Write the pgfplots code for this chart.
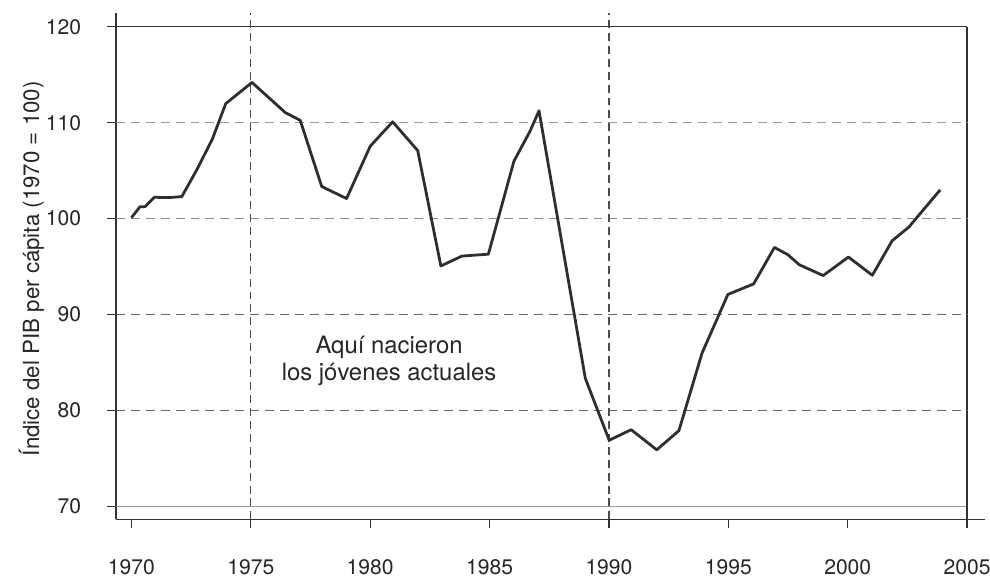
\documentclass[border=0pt]{standalone}
\usepackage{fontspec}
\setmainfont{TeX Gyre Heros}
\usepackage{pgfplots}
\pgfplotsset{compat=1.18}

\definecolor{curve}{HTML}{2E2E2E}
\definecolor{axisgray}{HTML}{333333}

\begin{document}
\begin{tikzpicture}
\begin{axis}[
    scale only axis,
    width=436.75pt, height=254.5pt,
    xmin=1969.35, xmax=2005.75,
    ymin=68.65, ymax=121.45,
    axis x line*=bottom, axis y line*=left,
    axis line style={axisgray, line width=0.65pt, -},
    xtick={1970,1975,...,2005},
    ytick={70,80,...,120},
    tick align=outside,
    major tick length=4.5pt,
    tick style={axisgray, line width=0.65pt},
    /pgf/number format/assume math mode=true,
    /pgf/number format/1000 sep={},
    tick label style={font=\fontsize{10.6}{12}\selectfont, text=black!85},
    xticklabel style={yshift=-12pt},
    yticklabel style={xshift=-9.5pt},
    every axis y label/.style={at={(rel axis cs:0,0.495)}, xshift=-42.5pt, rotate=90, anchor=center},
    ylabel={Índice del PIB per cápita (1970 = 100)},
    ylabel style={font=\fontsize{11.2}{13}\selectfont, text=black!85},
    clip=false,
]
% reference lines
\draw[black!40, line width=0.8pt] (axis cs:1969.35,70) -- (axis cs:2005,70);
\draw[axisgray, line width=0.65pt] (axis cs:1969.35,120) -- (axis cs:2005,120);
\draw[axisgray, line width=0.65pt] (axis cs:2005,68.65) -- (axis cs:2005,120);
\draw[black!40, line width=0.6pt, dash pattern=on 4.5pt off 3pt] (axis cs:1969.35,110) -- (axis cs:2005,110);
\draw[black!45, line width=0.6pt, dash pattern=on 4.5pt off 3pt] (axis cs:1969.35,100) -- (axis cs:2005,100);
\draw[black!60, line width=0.6pt, dash pattern=on 4.5pt off 3pt] (axis cs:1969.35,90) -- (axis cs:2005,90);
\draw[black!60, line width=0.6pt, dash pattern=on 4.5pt off 3pt] (axis cs:1969.35,80) -- (axis cs:2005,80);
\draw[black!70, line width=0.65pt, dash pattern=on 4pt off 2.5pt] (axis cs:1975,68.65) -- (axis cs:1975,121.45);
\draw[black!70, line width=0.65pt, dash pattern=on 4pt off 2.5pt] (axis cs:1990,68.65) -- (axis cs:1990,121.45);

\addplot[curve, line width=1.4pt, line join=round, mark=none] coordinates {
(1970,100.1) (1970.36,101.25) (1970.57,101.25) (1970.96,102.23) (1971.58,102.2)
(1972.11,102.3) (1972.76,105.2) (1973.39,108.3) (1973.95,112.0) (1975.05,114.2)
(1976.45,111.05) (1977.07,110.25) (1977.97,103.35) (1979.01,102.1) (1980,107.55)
(1980.94,110.1) (1981.99,107.1) (1982.96,95.07) (1983.84,96.1) (1984.95,96.3)
(1986.02,106.0) (1986.69,109.1) (1987.07,111.25) (1989.01,83.35) (1990.01,76.9)
(1990.93,78.0) (1992.0,75.9) (1992.93,77.9) (1993.9,86.0) (1994.98,92.1)
(1996.06,93.2) (1996.93,97.0) (1997.49,96.25) (1997.97,95.2) (1998.97,94.07)
(2000.03,96.0) (2001.03,94.1) (2001.86,97.7) (2002.55,99.1) (2003.87,103.0)
};

\node[align=center, font=\fontsize{12}{13.3}\selectfont, text=black!85] at (axis cs:1980.79,85.15) {Aquí nacieron\\los jóvenes actuales};

\coordinate (ll) at (rel axis cs:0,0);
\coordinate (ur) at (rel axis cs:1,1);
\end{axis}
\pgfresetboundingbox
\path ([xshift=-58.25pt,yshift=-28.5pt]ll) rectangle ([xshift=2.5pt,yshift=6.5pt]ur);
\end{tikzpicture}
\end{document}
